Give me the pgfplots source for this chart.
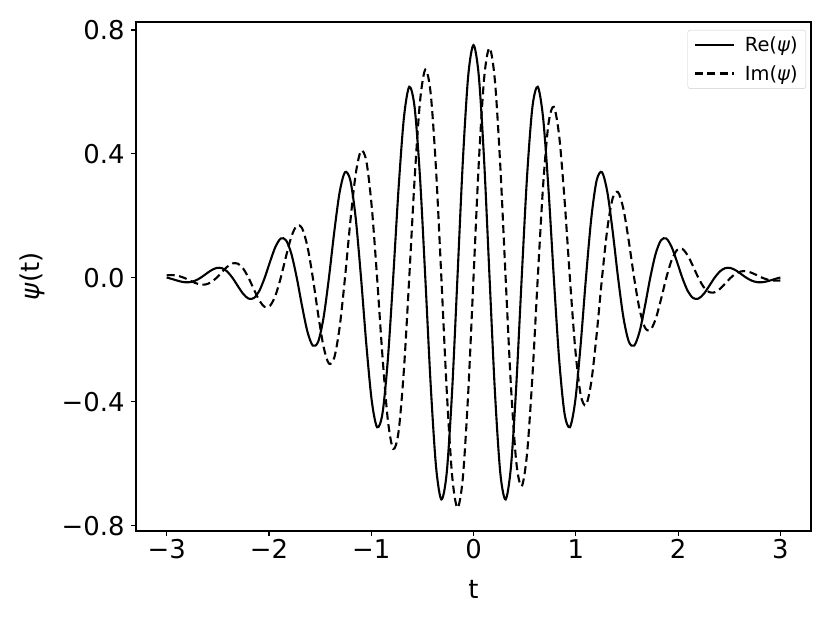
\documentclass[border=0pt]{standalone}
\usepackage{fontspec}
\setmainfont{DejaVu Sans}
\usepackage{pgfplots}
\pgfplotsset{compat=1.18}
\usepackage{pgfplotstable}

% Morlet-type wavelet, real and imaginary parts
\pgfplotstableread{
t re im
-3.0 0.0013 0.0082
-2.98451 0 0.0087
-2.93215 -0.0051 0.0088
-2.87979 -0.0103 0.0059
-2.82743 -0.0138 0
-2.77507 -0.0138 -0.0080
-2.72271 -0.0092 -0.0160
-2.67035 0 -0.0213
-2.61799 0.0122 -0.0211
-2.56563 0.0242 -0.0140
-2.51327 0.0319 0
-2.46091 0.0315 0.0182
-2.40855 0.0207 0.0358
-2.35619 0 0.0468
-2.30383 -0.0264 0.0458
-2.25147 -0.0516 0.0298
-2.19911 -0.0669 0
-2.14675 -0.0649 -0.0375
-2.09440 -0.0419 -0.0726
-2.04204 0 -0.0934
-1.98968 0.0519 -0.0899
-1.93732 0.0996 -0.0575
-1.88496 0.1271 0
-1.83260 0.1213 0.0701
-1.78024 0.0770 0.1334
-1.72788 0 0.1688
-1.67552 -0.0923 0.1598
-1.62316 -0.1742 0.1006
-1.57080 -0.2187 0
-1.51844 -0.2054 -0.1186
-1.46608 -0.1282 -0.2221
-1.41372 0 -0.2765
-1.36136 0.1487 -0.2575
-1.30900 0.2762 -0.1594
-1.25664 0.3410 0
-1.20428 0.3150 0.1819
-1.15192 0.1934 0.3350
-1.09956 0 0.4104
-1.04720 -0.2171 0.3759
-0.99484 -0.3966 0.2290
-0.94248 -0.4818 0
-0.89012 -0.4377 -0.2527
-0.83776 -0.2644 -0.4580
-0.78540 0 -0.5518
-0.73304 0.2871 -0.4972
-0.68068 0.5160 -0.2979
-0.62832 0.6166 0
-0.57596 0.5511 0.3182
-0.52360 0.3275 0.5672
-0.47124 0 0.6722
-0.41888 -0.3440 0.5959
-0.36652 -0.6082 0.3512
-0.31416 -0.7150 0
-0.26180 -0.6286 -0.3629
-0.20944 -0.3674 -0.6364
-0.15708 0 -0.7419
-0.10472 0.3735 -0.6469
-0.05236 0.6496 -0.3751
0 0.7511 0
0.05236 0.6496 0.3751
0.10472 0.3735 0.6469
0.15708 0 0.7419
0.20944 -0.3674 0.6364
0.26180 -0.6286 0.3629
0.31416 -0.7150 0
0.36652 -0.6082 -0.3512
0.41888 -0.3440 -0.5959
0.47124 0 -0.6722
0.52360 0.3275 -0.5672
0.57596 0.5511 -0.3182
0.62832 0.6166 0
0.68068 0.5160 0.2979
0.73304 0.2871 0.4972
0.78540 0 0.5518
0.83776 -0.2644 0.4580
0.89012 -0.4377 0.2527
0.94248 -0.4818 0
0.99484 -0.3966 -0.2290
1.04720 -0.2171 -0.3759
1.09956 0 -0.4104
1.15192 0.1934 -0.3350
1.20428 0.3150 -0.1819
1.25664 0.3410 0
1.30900 0.2762 0.1594
1.36136 0.1487 0.2575
1.41372 0 0.2765
1.46608 -0.1282 0.2221
1.51844 -0.2054 0.1186
1.57080 -0.2187 0
1.62316 -0.1742 -0.1006
1.67552 -0.0923 -0.1598
1.72788 0 -0.1688
1.78024 0.0770 -0.1334
1.83260 0.1213 -0.0701
1.88496 0.1271 0
1.93732 0.0996 0.0575
1.98968 0.0519 0.0899
2.04204 0 0.0934
2.09440 -0.0419 0.0726
2.14675 -0.0649 0.0375
2.19911 -0.0669 0
2.25147 -0.0516 -0.0298
2.30383 -0.0264 -0.0458
2.35619 0 -0.0468
2.40855 0.0207 -0.0358
2.46091 0.0315 -0.0182
2.51327 0.0319 0
2.56563 0.0242 0.0140
2.61799 0.0122 0.0211
2.67035 0 0.0213
2.72271 -0.0092 0.0160
2.77507 -0.0138 0.0080
2.82743 -0.0138 0
2.87979 -0.0103 -0.0059
2.93215 -0.0051 -0.0088
2.98451 0 -0.0087
3.0 0.0013 -0.0082
}\psidata

\begin{document}
\begin{tikzpicture}
\begin{axis}[
    name=ax,
    scale only axis,
    width=675bp, height=509bp,
    xmin=-3.3, xmax=3.3,
    ymin=-0.8167, ymax=0.8258,
    xtick={-3,-2,-1,0,1,2,3},
    xticklabels={−3,−2,−1,0,1,2,3},
    ytick={-0.8,-0.4,0,0.4,0.8},
    yticklabels={−0.8,−0.4,0.0,0.4,0.8},
    xtick pos=left, ytick pos=left,
    tick align=outside,
    major tick length=4.9bp,
    tick style={black, line width=1.1bp},
    axis line style={black, line width=1.1bp},
    ticklabel style={font=\fontsize{26}{30}\selectfont},
    yticklabel style={xshift=-3bp},
    label style={font=\fontsize{26}{30}\selectfont},
    xlabel={t},
    ylabel={\textit{ψ}(t)},
    xlabel style={at={(axis description cs:0.5,-0.114)}, anchor=center},
    ylabel style={at={(axis description cs:-0.154,0.5)}, anchor=center},
    legend style={at={(1,1)}, anchor=north east, xshift=-5bp, yshift=-8bp,
        draw=black!20, rounded corners=2.5bp,
        font=\fontsize{19.5}{23}\selectfont,
        inner xsep=6bp, inner ysep=5bp, row sep=8bp,
        /tikz/every odd column/.append style={column sep=8bp}},
    legend cell align=left,
    legend image code/.code={\draw[#1] (0bp,0bp) -- (39bp,0bp);},
]
\addplot[black, line width=2.1bp, smooth] table[x=t, y=re] {\psidata};
\addlegendentry{Re(\textit{ψ})}
\addplot[black, line width=2.1bp, smooth, dash pattern=on 8bp off 4.5bp] table[x=t, y=im] {\psidata};
\addlegendentry{Im(\textit{ψ})}
\end{axis}
\path ([shift={(-136bp,-92bp)}]ax.south west) rectangle ([shift={(19bp,22bp)}]ax.north east);
\end{tikzpicture}
\end{document}
